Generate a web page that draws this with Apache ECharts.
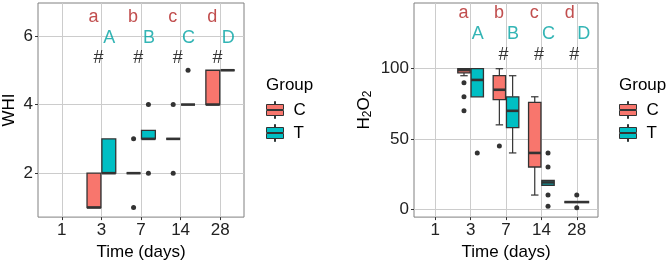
<!DOCTYPE html>
<html>
<head>
<meta charset="utf-8">
<script src="https://cdn.jsdelivr.net/npm/echarts@6/dist/echarts.min.js"></script>
<style>
html,body{margin:0;padding:0;background:#fff;}
#chart{width:669px;height:266px;}
</style>
</head>
<body>
<div id="chart"></div>
<script>
// ---------------- DATA ----------------
const categories = ['1', '3', '7', '14', '28'];
const groups = ['C', 'T'];

// boxplot stats per category: [min, Q1, median, Q3, max] (null = no data)
const whiC = [null, [1, 1, 1, 2, 2], [2, 2, 2, 2, 2], [3, 3, 3, 3, 3], [4, 4, 4, 5, 5]];
const whiT = [null, [2, 2, 2, 3, 3], [3, 3, 3, 3.25, 3.25], [4, 4, 4, 4, 4], [5, 5, 5, 5, 5]];
const whiCOutliers = [[], [], [1, 3], [2, 4], []];
const whiTOutliers = [[], [], [2, 4], [5], []];

const h2o2C = [null, [95, 97, 99, 100, 100], [60, 78, 85, 95, 100], [10, 30, 40, 76, 80], [5, 5, 5, 5, 5]];
const h2o2T = [null, [80, 80, 92, 100, 100], [40, 58, 70, 80, 95], [17, 17, 19, 20.5, 20.5], null];
const h2o2COutliers = [[], [90, 80, 70], [45], [], [10, 1]];
const h2o2TOutliers = [[], [40], [], [40, 30, 10, 2], []];

const lowerLetters = ['', 'a', 'b', 'c', 'd'];
const upperLetters = ['', 'A', 'B', 'C', 'D'];
const whiHash = ['', '#', '#', '#', '#'];
const h2o2Hash = ['', '', '#', '#', '#'];

const whiTicks = [2, 4, 6];
const h2o2Ticks = [0, 50, 100];

// ---------------- STYLE / LAYOUT ----------------
const FONT = 'Liberation Sans, Arial, sans-serif';
const colC = '#F8766D', colT = '#00BFC4';
const lineCol = '#333333';
const redTxt = '#B22222', tealTxt = '#00A3A3';
const dodge = 0.1875, singleW = 0.70, pairW = 0.35;

function hasData(box, outs) { return box != null || (outs && outs.length > 0); }

function buildPanel(boxC, boxT, outC, outT) {
  const res = { C: [], T: [], oC: [], oT: [] };
  for (let i = 0; i < categories.length; i++) {
    const pc = hasData(boxC[i], outC[i]), pt = hasData(boxT[i], outT[i]);
    const both = pc && pt;
    const xc = both ? i - dodge : i, xt = both ? i + dodge : i;
    const w = both ? pairW : singleW;
    if (boxC[i]) res.C.push([xc].concat(boxC[i], [w]));
    if (boxT[i]) res.T.push([xt].concat(boxT[i], [w]));
    (outC[i] || []).forEach(v => res.oC.push([xc, v]));
    (outT[i] || []).forEach(v => res.oT.push([xt, v]));
  }
  return res;
}

function renderBox(params, api) {
  const x = api.value(0), w = api.value(6);
  const lo = api.value(1), q1 = api.value(2), md = api.value(3), q3 = api.value(4), hi = api.value(5);
  const half = api.size([w, 0])[0] / 2;
  const capHalf = half * 0.6;
  const P = v => api.coord([x, v]);
  const cx = P(md)[0];
  const yLo = P(lo)[1], yQ1 = P(q1)[1], yMd = P(md)[1], yQ3 = P(q3)[1], yHi = P(hi)[1];
  const st = { stroke: lineCol, lineWidth: 1.2 };
  const ch = [];
  if (hi > q3) {
    ch.push({ type: 'line', shape: { x1: cx, y1: yQ3, x2: cx, y2: yHi }, style: st });
    ch.push({ type: 'line', shape: { x1: cx - capHalf, y1: yHi, x2: cx + capHalf, y2: yHi }, style: st });
  }
  if (lo < q1) {
    ch.push({ type: 'line', shape: { x1: cx, y1: yQ1, x2: cx, y2: yLo }, style: st });
    ch.push({ type: 'line', shape: { x1: cx - capHalf, y1: yLo, x2: cx + capHalf, y2: yLo }, style: st });
  }
  ch.push({ type: 'rect', shape: { x: cx - half, y: yQ3, width: 2 * half, height: yQ1 - yQ3 },
    style: { fill: api.visual('color'), stroke: lineCol, lineWidth: 1.3 } });
  ch.push({ type: 'line', shape: { x1: cx - half, y1: yMd, x2: cx + half, y2: yMd },
    style: { stroke: lineCol, lineWidth: 2.6 } });
  return { type: 'group', children: ch };
}

const whi = buildPanel(whiC, whiT, whiCOutliers, whiTOutliers);
const h2 = buildPanel(h2o2C, h2o2T, h2o2COutliers, h2o2TOutliers);

function letterData(arr, off, y) {
  const d = [];
  arr.forEach((t, i) => { if (t) d.push({ value: [i + off, y], name: t }); });
  return d;
}

function textSeries(idx, data, color) {
  return {
    type: 'scatter', xAxisIndex: idx, yAxisIndex: idx, symbolSize: 0, silent: true, z: 5,
    data: data,
    label: { show: true, position: 'inside', formatter: p => p.name, color: color,
      fontSize: 18, fontFamily: FONT }
  };
}

function xAxisDef(idx) {
  return {
    type: 'value', gridIndex: idx, min: -0.6, max: 4.6,
    axisLine: { show: false, onZero: false },
    axisTick: { show: true, customValues: [0, 1, 2, 3, 4], length: 3, lineStyle: { color: lineCol } },
    axisLabel: { customValues: [0, 1, 2, 3, 4], formatter: v => categories[Math.round(v)],
      margin: 5, fontSize: 17, color: '#222', fontFamily: FONT },
    splitLine: { show: true, lineStyle: { color: '#cccccc', width: 1 } },
    name: 'Time (days)', nameLocation: 'middle', nameGap: 22,
    nameTextStyle: { fontSize: 17, color: '#000', fontFamily: FONT }
  };
}

function yAxisDef(idx, min, max, ticks, name, gap) {
  return {
    type: 'value', gridIndex: idx, min: min, max: max,
    axisLine: { show: false, onZero: false },
    axisTick: { show: true, customValues: ticks, length: 3, lineStyle: { color: lineCol } },
    axisLabel: { customValues: ticks, margin: 5, fontSize: 17, color: '#222', fontFamily: FONT },
    splitLine: { show: true, lineStyle: { color: '#cccccc', width: 1 } },
    name: name, nameLocation: 'middle', nameGap: gap,
    nameTextStyle: { fontSize: 17, color: '#000', fontFamily: FONT,
      rich: { n: { fontSize: 17, fontFamily: FONT, color: '#000' },
              s: { fontSize: 12, fontFamily: FONT, color: '#000', padding: [7, 0, 0, 0] } } }
  };
}

const glyph = 'path://M0,3H17V8H0Z M0,9H17V14H0Z M8,0H9V3H8Z M8,14H9V17H8Z';

function legendDef(left) {
  return {
    left: left, top: 96, orient: 'vertical', itemWidth: 17, itemHeight: 17, itemGap: 5,
    data: groups, icon: glyph, selectedMode: false,
    itemStyle: { borderColor: lineCol, borderWidth: 1 },
    textStyle: { fontSize: 17, color: '#000', fontFamily: FONT, padding: [0, 0, 0, 5] }
  };
}

const option = {
  animation: false,
  backgroundColor: '#fff',
  title: [
    { text: 'Group', left: 261, top: 72, textStyle: { fontSize: 17, fontWeight: 'normal', color: '#000', fontFamily: FONT } },
    { text: 'Group', left: 614, top: 72, textStyle: { fontSize: 17, fontWeight: 'normal', color: '#000', fontFamily: FONT } }
  ],
  legend: [legendDef(261), legendDef(614)],
  grid: [
    { left: 37, top: 3, width: 207, height: 215, show: true, borderColor: '#808080', borderWidth: 1, backgroundColor: '#fff' },
    { left: 414, top: 3, width: 184, height: 215, show: true, borderColor: '#808080', borderWidth: 1, backgroundColor: '#fff' }
  ],
  xAxis: [xAxisDef(0), xAxisDef(1)],
  yAxis: [
    yAxisDef(0, 0.72, 6.96, whiTicks, 'WHI', 20),
    yAxisDef(1, -5.7, 146.8, h2o2Ticks, '{n|H}{s|2}{n|O}{s|2}', 40)
  ],
  series: [
    { name: 'C', type: 'custom', xAxisIndex: 0, yAxisIndex: 0, itemStyle: { color: colC }, renderItem: renderBox,
      encode: { x: 0, y: [1, 2, 3, 4, 5] }, data: whi.C, z: 3 },
    { name: 'T', type: 'custom', xAxisIndex: 0, yAxisIndex: 0, itemStyle: { color: colT }, renderItem: renderBox,
      encode: { x: 0, y: [1, 2, 3, 4, 5] }, data: whi.T, z: 3 },
    { name: 'C', type: 'custom', xAxisIndex: 1, yAxisIndex: 1, itemStyle: { color: colC }, renderItem: renderBox,
      encode: { x: 0, y: [1, 2, 3, 4, 5] }, data: h2.C, z: 3 },
    { name: 'T', type: 'custom', xAxisIndex: 1, yAxisIndex: 1, itemStyle: { color: colT }, renderItem: renderBox,
      encode: { x: 0, y: [1, 2, 3, 4, 5] }, data: h2.T, z: 3 },
    { name: 'C outliers', type: 'scatter', xAxisIndex: 0, yAxisIndex: 0, symbolSize: 5, itemStyle: { color: lineCol, opacity: 1 }, data: whi.oC, z: 4 },
    { name: 'T outliers', type: 'scatter', xAxisIndex: 0, yAxisIndex: 0, symbolSize: 5, itemStyle: { color: lineCol, opacity: 1 }, data: whi.oT, z: 4 },
    { name: 'C outliers', type: 'scatter', xAxisIndex: 1, yAxisIndex: 1, symbolSize: 5, itemStyle: { color: lineCol, opacity: 1 }, data: h2.oC, z: 4 },
    { name: 'T outliers', type: 'scatter', xAxisIndex: 1, yAxisIndex: 1, symbolSize: 5, itemStyle: { color: lineCol, opacity: 1 }, data: h2.oT, z: 4 },
    textSeries(0, letterData(lowerLetters, -0.2, 6.55), redTxt),
    textSeries(0, letterData(upperLetters, 0.2, 5.95), tealTxt),
    textSeries(0, letterData(whiHash, -0.07, 5.36), '#000'),
    textSeries(1, letterData(lowerLetters, -0.2, 139.5), redTxt),
    textSeries(1, letterData(upperLetters, 0.2, 124.5), tealTxt),
    textSeries(1, letterData(h2o2Hash, -0.07, 109.6), '#000')
  ]
};

const chart = echarts.init(document.getElementById('chart'), null, { renderer: 'canvas' });
chart.setOption(option);
</script>
</body>
</html>
